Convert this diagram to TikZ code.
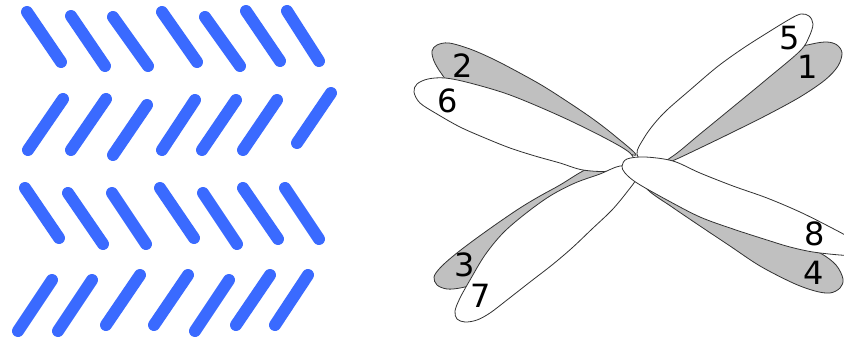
\documentclass[tikz,border=0pt]{standalone}
\usepackage{fontspec}
\setmainfont{DejaVu Sans}
\definecolor{strokeblue}{RGB}{58,106,255}
\definecolor{petalgray}{RGB}{192,192,192}
\definecolor{outline}{RGB}{50,50,50}
\begin{document}
\begin{tikzpicture}[x=1pt,y=-1pt,
  bar/.style={line width=12pt,line cap=round,draw=strokeblue},
  graypetal/.style={draw=outline,line width=0.8pt,fill=petalgray},
  whitepetal/.style={draw=outline,line width=0.8pt,fill=white},
  num/.style={font=\fontsize{32}{36}\selectfont,inner sep=0pt}]
\useasboundingbox (0,0) rectangle (844,340);
\clip (0,0) rectangle (844,340);
\fill[white] (0,0) rectangle (844,340);
% herringbone strokes
\foreach \xa/\ya/\xb/\yb in {
  27/12/61/62, 71/16/105/66, 113/17/148/66, 162/12/197/62, 205/17/240/66, 246/11/280/61, 287/11/319/61,
  63/99/28/150, 106/99/71/150, 147/105/113/155, 195/100/162/150, 236/100/202/150, 277/100/243/150, 331/93/297/143,
  25/188/59/238, 68/193/103/244, 112/193/146/244, 160/188/194/238, 203/193/237/244, 243/188/278/239, 285/188/319/239,
  52/280/18/331, 92/280/58/331, 140/275/106/325, 188/275/154/325, 229/280/195/331, 270/275/236/325, 308/275/275/325}
  \draw[bar] (\xa,\ya) -- (\xb,\yb);
% gray petals 1-4
\draw[graypetal] plot[smooth cycle,tension=0.55] coordinates {
  (655,166) (672,161) (700,148) (733,132) (767,115) (800,97) (825,80) (838,66) (842,53) (837,45) (827,42)
  (812,44) (795,50) (750,80) (700,118) (660,150)};
\draw[graypetal] plot[smooth cycle,tension=0.55] coordinates {
  (450,82) (441,73) (434,61) (432,51) (437,45) (449,43) (470,49) (493,59) (518,72) (543,86) (568,102)
  (593,119) (615,136) (636,155) (610,147) (585,136) (560,125) (535,114) (510,103) (480,92)};
\draw[graypetal] plot[smooth cycle,tension=0.55] coordinates {
  (622,160) (600,165) (583,171) (560,185) (540,196) (520,208) (495,225) (470,243) (452,257) (440,268)
  (434,277) (437,285) (447,289) (460,288) (472,284) (485,270) (505,245) (530,222) (560,200) (590,183) (612,173)};
\draw[graypetal] plot[smooth cycle,tension=0.55] coordinates {
  (636,172) (648,190) (672,207) (700,226) (730,246) (760,266) (793,283) (815,291) (830,293) (840,288)
  (843,279) (836,265) (820,253) (790,240) (740,220) (690,200) (652,180)};
% white petals 5-8
\draw[whitepetal] plot[smooth cycle,tension=0.55] coordinates {
  (650,168) (673,156) (700,134) (733,107) (767,79) (800,51) (809,37) (813,24) (809,16) (801,14)
  (790,19) (767,33) (742,49) (717,67) (690,90) (667,110) (654,124) (644,138) (637,154)};
\draw[whitepetal] plot[smooth cycle,tension=0.55] coordinates {
  (414,92) (417,84) (428,79) (445,78) (470,83) (510,95) (560,116) (605,138) (630,153) (632,163)
  (610,171) (583,170) (560,163) (535,156) (510,148) (485,138) (460,127) (437,114) (420,103)};
\draw[whitepetal] plot[smooth cycle,tension=0.55] coordinates {
  (638,168) (620,166) (600,174) (575,183) (550,196) (525,214) (503,233) (485,255) (470,280) (460,298)
  (455,311) (457,319) (465,322) (477,320) (490,313) (507,300) (530,282) (552,265) (572,248) (592,229)
  (612,210) (627,192) (637,178)};
\draw[whitepetal] plot[smooth cycle,tension=0.55] coordinates {
  (622,166) (627,159) (645,157) (673,161) (700,173) (733,186) (767,198) (800,212) (830,227) (850,238)
  (860,247) (854,255) (840,255) (813,252) (790,247) (767,240) (733,229) (700,217) (667,200) (637,183) (625,173)};
% labels
\node[num] (n1) at (808,67) {1};
\node[num] (n2) at (463,66) {2};
\node[num] (n3) at (465,265) {3};
\node[num] (n4) at (814,273) {4};
\node[num] (n5) at (790,38) {5};
\node[num] (n6) at (448,101) {6};
\node[num] (n7) at (481,296) {7};
\node[num] (n8) at (815,234) {8};
\end{tikzpicture}
\end{document}
